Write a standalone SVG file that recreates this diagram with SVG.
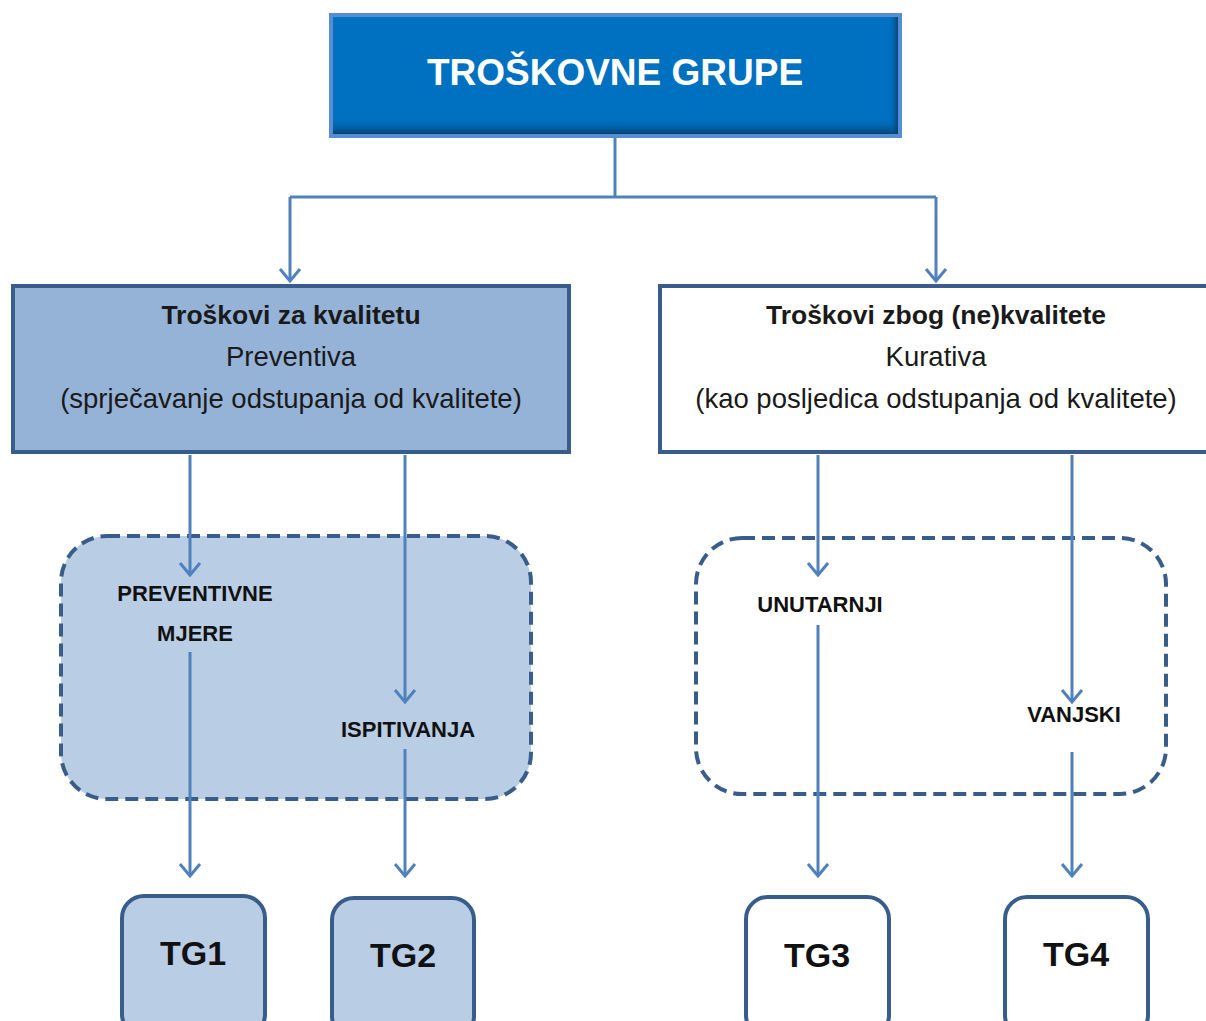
<svg xmlns="http://www.w3.org/2000/svg" width="1206" height="1021" viewBox="0 0 1206 1021">
<defs>
<marker id="arr" viewBox="-14 -12 16 24" refX="0" refY="0" markerWidth="16" markerHeight="24" markerUnits="userSpaceOnUse" orient="auto">
<path d="M-12,-10 L0,0 L-12,10" fill="none" stroke="#4F81BD" stroke-width="3"/>
</marker>
<linearGradient id="shadowB" x1="0" y1="0" x2="0" y2="1">
<stop offset="0" stop-color="#0070C0" stop-opacity="0"/>
<stop offset="1" stop-color="#063a66" stop-opacity="0.9"/>
</linearGradient>
<linearGradient id="shadowR" x1="0" y1="0" x2="1" y2="0">
<stop offset="0" stop-color="#0070C0" stop-opacity="0"/>
<stop offset="1" stop-color="#063a66" stop-opacity="0.8"/>
</linearGradient>
</defs>
<style>
.conn{fill:none;stroke:#4F81BD;stroke-width:3}
.box{stroke:#385D8A;stroke-width:4}
.dash{stroke:#385D8A;stroke-width:4;stroke-dasharray:13 7}
.t{font-family:"Liberation Sans",Arial,sans-serif;fill:#1a1a1a;text-anchor:middle}
.b{font-weight:bold}
.lbl{font-family:"Liberation Sans",Arial,sans-serif;font-weight:bold;font-size:22px;fill:#111;text-anchor:middle}
.tg{font-family:"Liberation Sans",Arial,sans-serif;font-weight:bold;font-size:34px;fill:#111;text-anchor:middle}
</style>
<rect width="1206" height="1021" fill="#fff"/>

<g id="group-left">
<rect x="61" y="536" width="470" height="263" rx="46" fill="#B9CDE5" class="dash"/>
</g>
<g id="group-right">
<rect x="696" y="538" width="470" height="256" rx="46" fill="none" class="dash"/>
</g>

<g id="connectors">
<path class="conn" d="M615,137 V197 M290,197 H936"/>
<path class="conn" d="M290,197 V281" marker-end="url(#arr)"/>
<path class="conn" d="M936,197 V281" marker-end="url(#arr)"/>
<path class="conn" d="M190,455 V575" marker-end="url(#arr)"/>
<path class="conn" d="M405,455 V702" marker-end="url(#arr)"/>
<path class="conn" d="M190,652 V876" marker-end="url(#arr)"/>
<path class="conn" d="M405,749 V876" marker-end="url(#arr)"/>
<path class="conn" d="M818,455 V575" marker-end="url(#arr)"/>
<path class="conn" d="M1072,455 V702" marker-end="url(#arr)"/>
<path class="conn" d="M818,625 V876" marker-end="url(#arr)"/>
<path class="conn" d="M1072,752 V876" marker-end="url(#arr)"/>
</g>

<g id="troskovne-grupe">
<rect x="331" y="15" width="569" height="121" fill="#0070C0" stroke="#558ED5" stroke-width="4"/>
<rect x="333" y="118" width="565" height="16" fill="url(#shadowB)"/>
<rect x="888" y="17" width="10" height="117" fill="url(#shadowR)"/>
<text x="615" y="85" font-family="'Liberation Sans',Arial,sans-serif" font-weight="bold" font-size="37" fill="#fff" text-anchor="middle">TROŠKOVNE GRUPE</text>
</g>

<g id="troskovi-za-kvalitetu">
<rect x="13" y="286" width="556" height="166" fill="#95B3D7" class="box"/>
<text class="t b" x="291" y="324" font-size="26.5">Troškovi za kvalitetu</text>
<text class="t" x="291" y="366" font-size="27.5">Preventiva</text>
<text class="t" x="291" y="408" font-size="27.5">(sprječavanje odstupanja od kvalitete)</text>
</g>

<g id="troskovi-zbog-nekvalitete">
<rect x="660" y="286" width="560" height="166" fill="#fff" class="box"/>
<text class="t b" x="936" y="324" font-size="26.5">Troškovi zbog (ne)kvalitete</text>
<text class="t" x="936" y="366" font-size="27.5">Kurativa</text>
<text class="t" x="936" y="408" font-size="27.5">(kao posljedica odstupanja od kvalitete)</text>
</g>

<g id="preventivne-mjere">
<text class="lbl" x="195" y="601">PREVENTIVNE</text>
<text class="lbl" x="195" y="641">MJERE</text>
</g>
<g id="ispitivanja">
<text class="lbl" x="408" y="737">ISPITIVANJA</text>
</g>
<g id="unutarnji">
<text class="lbl" x="820" y="612">UNUTARNJI</text>
</g>
<g id="vanjski">
<text class="lbl" x="1074" y="722">VANJSKI</text>
</g>

<g id="tg1">
<rect x="122" y="896" width="143" height="140" rx="22" fill="#B9CDE5" class="box"/>
<text class="tg" x="193" y="965">TG1</text>
</g>
<g id="tg2">
<rect x="332" y="898" width="142" height="140" rx="22" fill="#B9CDE5" class="box"/>
<text class="tg" x="403" y="967">TG2</text>
</g>
<g id="tg3">
<rect x="746" y="897" width="143" height="140" rx="22" fill="#fff" class="box"/>
<text class="tg" x="817" y="967">TG3</text>
</g>
<g id="tg4">
<rect x="1005" y="897" width="143" height="140" rx="22" fill="#fff" class="box"/>
<text class="tg" x="1076" y="966">TG4</text>
</g>
</svg>
